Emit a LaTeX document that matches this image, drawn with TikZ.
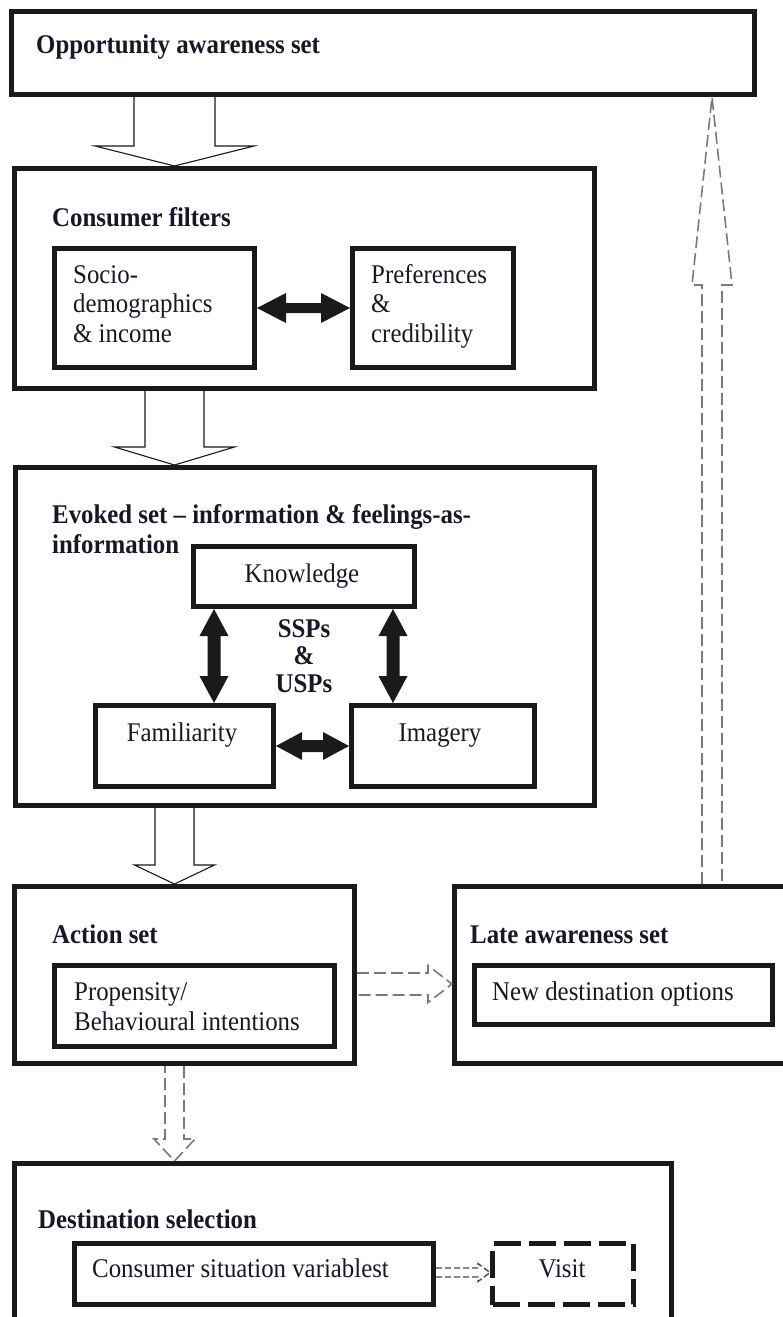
\documentclass[tikz,border=0pt]{standalone}
\usepackage{fontspec}
\setmainfont{Liberation Serif}[FakeStretch=0.92]
\usetikzlibrary{calc}

% hollow block arrow: #2 start, #3 tip, #4 half shaft, #5 half head, #6 head length
\newcommand\blockarrow[6][]{%
  \coordinate (ba-base) at ($(#3)!#6!(#2)$);
  \draw[#1] ($(#2)!#4!90:(#3)$) -- ($(ba-base)!#4!90:(#3)$) -- ($(ba-base)!#5!90:(#3)$)
    -- (#3) -- ($(ba-base)!#5!-90:(#3)$) -- ($(ba-base)!#4!-90:(#3)$) -- ($(#2)!#4!-90:(#3)$);
}
% solid two-headed arrow between #2 and #3
\newcommand\twowayarrow[6][]{%
  \coordinate (tw-a) at ($(#2)!#6!(#3)$);
  \coordinate (tw-b) at ($(#3)!#6!(#2)$);
  \fill[#1] (#2) -- ($(tw-a)!#5!90:(#3)$) -- ($(tw-a)!#4!90:(#3)$) -- ($(tw-b)!#4!90:(#3)$)
    -- ($(tw-b)!#5!90:(#3)$) -- (#3) -- ($(tw-b)!#5!-90:(#3)$) -- ($(tw-b)!#4!-90:(#3)$)
    -- ($(tw-a)!#4!-90:(#3)$) -- ($(tw-a)!#5!-90:(#3)$) -- cycle;
}

\definecolor{ink}{HTML}{1A1A1A}
\definecolor{textink}{HTML}{16182A}
\definecolor{dashgray}{HTML}{7A7A7A}

\tikzset{
  box/.style={draw=ink, line width=5pt, inner sep=0pt, anchor=north west},
  visitbox/.style={box, dash pattern=on 27pt off 8pt},
  lbl/.style={inner sep=0pt, anchor=base west, text=textink, align=left,
    font=\fontsize{27}{29.5}\selectfont},
  ttl/.style={lbl, font=\fontsize{27}{30}\selectfont\bfseries},
  hollow/.style={draw=ink, line width=1.1pt, fill=white, line join=miter},
  dashedarrow/.style={draw=dashgray, line width=1.6pt, dash pattern=on 12pt off 5pt},
  smalldashed/.style={draw=ink!80, line width=1.4pt, dash pattern=on 6pt off 3pt},
  solidtwo/.style={fill=ink}
}

\begin{document}
\begin{tikzpicture}[x=1pt, y=-1pt]
\path[use as bounding box, fill=white] (0,0) rectangle (783,1317);
\clip (0,0) rectangle (783,1317);

% stages
\node[box, minimum width=743pt, minimum height=83pt] (top) at (9,9) {};
\node[box, minimum width=580pt, minimum height=220pt] (cf) at (12,166) {};
\node[box, minimum width=200pt, minimum height=119pt] (socio) at (52,246) {};
\node[box, minimum width=161pt, minimum height=119pt] (pref) at (350,246) {};
\node[box, minimum width=579pt, minimum height=338pt] (ev) at (13,465) {};
\node[box, minimum width=221pt, minimum height=60pt] (know) at (191,544) {};
\node[box, minimum width=178pt, minimum height=81pt] (fam) at (93,703) {};
\node[box, minimum width=183pt, minimum height=81pt] (img) at (349,703) {};
\node[box, minimum width=340pt, minimum height=177pt] (act) at (12,884) {};
\node[box, minimum width=280pt, minimum height=81pt] (prop) at (52,963) {};
\node[box, minimum width=443pt, minimum height=177pt] (late) at (452,884) {};
\node[box, minimum width=298pt, minimum height=59pt] (newd) at (472,963) {};
\node[box, minimum width=657pt, minimum height=234pt] (dest) at (12,1161) {};
\node[box, minimum width=359pt, minimum height=61pt] (csv) at (72,1241) {};
\node[visitbox, minimum width=141pt, minimum height=61pt] (visit) at (490,1241) {};

% labels (multi-line labels are placed by the baseline of their last line)
\node[ttl] (tTop) at (36,53) {Opportunity awareness set};
\node[ttl] (tCf) at (52,226) {Consumer filters};
\node[lbl] (tSocio) at (73,342) {Socio-\\demographics\\\& income};
\node[lbl] (tPref) at (371,342) {Preferences\\\&\\credibility};
\node[ttl] (tEv) at (52,553) {Evoked set -- information \& feelings-as-\\information};
\node[lbl, anchor=base] (tKnow) at (302,582) {Knowledge};
\node[ttl, anchor=base, align=center, font=\fontsize{27}{27.5}\selectfont\bfseries] (tSsp) at (304,692) {SSPs\\\&\\USPs};
\node[lbl, anchor=base] (tFam) at (182,741) {Familiarity};
\node[lbl, anchor=base] (tImg) at (440,741) {Imagery};
\node[ttl] (tAct) at (52,943) {Action set};
\node[lbl] (tProp) at (74,1030) {Propensity/\\Behavioural intentions};
\node[ttl] (tLate) at (470,943) {Late awareness set};
\node[lbl] (tNew) at (492,1000) {New destination options};
\node[ttl] (tDest) at (38,1228) {Destination selection};
\node[lbl] (tCsv) at (92,1277) {Consumer situation variablest};
\node[lbl, anchor=base] (tVisit) at (562,1277) {Visit};

% reference lines for connector positions
\coordinate (colL) at (174.5,0);
\coordinate (colR) at (712,0);
\coordinate (colK1) at (214,0);
\coordinate (colK2) at (393,0);
\coordinate (rowF) at (0,308);
\coordinate (rowI) at (0,746);
\coordinate (rowA) at (0,984);
\coordinate (rowV) at (0,1272.5);

% main flow (hollow arrows)
\blockarrow[hollow]{colL |- top.south}{colL |- cf.north}{40.5pt}{79.5pt}{20pt}
\blockarrow[hollow]{colL |- cf.south}{colL |- ev.north}{29.5pt}{60pt}{18pt}
\blockarrow[hollow]{colL |- ev.south}{colL |- act.north}{19.5pt}{40pt}{19pt}

% dashed hollow arrows
\blockarrow[dashedarrow]{act.east |- rowA}{late.west |- rowA}{11pt}{18.5pt}{24pt}
\blockarrow[dashedarrow]{colR |- late.north}{colR |- top.south}{10pt}{20pt}{188pt}
\blockarrow[dashedarrow]{colL |- act.south}{colL |- dest.north}{9.5pt}{20.5pt}{22pt}
\blockarrow[smalldashed]{csv.east |- rowV}{visit.west |- rowV}{4.5pt}{9pt}{12pt}

% two-way links
\twowayarrow[solidtwo]{socio.east |- rowF}{pref.west |- rowF}{5pt}{15pt}{29pt}
\twowayarrow[solidtwo]{colK1 |- know.south}{colK1 |- fam.north}{6.5pt}{14.5pt}{27pt}
\twowayarrow[solidtwo]{colK2 |- know.south}{colK2 |- img.north}{6.5pt}{14.5pt}{27pt}
\twowayarrow[solidtwo]{fam.east |- rowI}{img.west |- rowI}{6pt}{14pt}{26pt}
\end{tikzpicture}
\end{document}
